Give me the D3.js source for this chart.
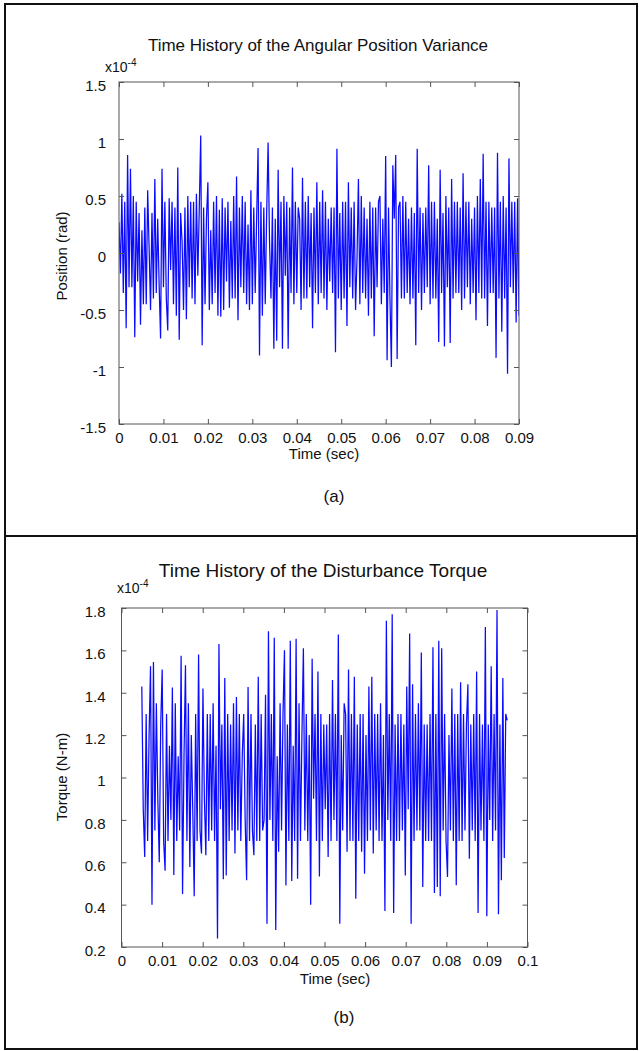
<!DOCTYPE html>
<html>
<head>
<meta charset="utf-8">
<script src="https://cdn.jsdelivr.net/npm/d3@7"></script>
<style>
  body { margin: 0; background: #fff; }
  svg { display: block; font-family: "Liberation Sans", Arial, sans-serif; }
  .tick text { font-size: 15px; fill: #111; }
  .tick line { stroke: #555; }
</style>
</head>
<body>
<svg id="fig" width="639" height="1051"></svg>
<script>
// ---- Data (values in units of 1e-4) ----
// (a) angular position, sampled evenly over 0 .. 0.09 s
const positionTime = [0, 0.09];
const positionValues = [
  0.27,-0.18,0.52,-0.35,0.45,-0.66,0.86,-0.30,0.74,-0.30,0.50,-0.74,0.45,-0.25,
  0.35,-0.63,0.20,-0.45,0.40,-0.45,0.55,0.05,-0.50,0.35,-0.40,0.65,-0.35,0.30,
  -0.28,-0.75,0.74,-0.30,0.45,-0.40,-0.68,0.48,-0.15,0.45,-0.45,0.40,-0.55,0.75,
  -0.76,0.35,0.10,-0.50,0.40,-0.58,0.50,-0.30,0.45,-0.40,0.45,-0.45,0.52,-0.20,
  0.40,1.03,-0.81,0.40,-0.45,0.30,0.62,-0.50,0.20,-0.45,0.45,-0.35,0.50,-0.55,
  0.38,-0.56,0.48,-0.50,0.40,-0.25,0.45,-0.48,0.28,-0.40,0.50,-0.40,0.67,-0.59,
  0.40,-0.30,0.50,-0.35,0.45,-0.45,0.25,-0.50,0.55,-0.45,0.40,-0.35,0.30,0.92,
  -0.90,0.45,-0.55,0.40,-0.45,0.35,0.97,0.10,-0.40,0.40,-0.84,0.30,-0.77,0.73,
  -0.30,0.45,-0.84,0.50,-0.20,0.45,-0.84,0.40,-0.35,0.75,-0.45,0.45,-0.35,0.40,
  0.30,-0.50,0.66,-0.40,0.45,-0.40,0.50,-0.30,0.35,-0.66,0.40,-0.35,0.62,-0.45,
  0.45,-0.35,0.55,-0.40,0.45,-0.50,0.30,-0.25,0.40,-0.35,0.40,-0.87,0.915,-0.40,
  0.35,-0.50,0.45,-0.40,0.45,-0.64,0.62,-0.30,0.40,-0.40,0.45,-0.50,-0.05,0.65,
  -0.45,0.50,-0.35,0.40,-0.40,0.30,-0.55,0.45,-0.40,0.40,-0.73,0.40,-0.30,0.45,
  0.50,-0.45,0.30,-0.35,0.85,-0.94,0.40,-0.40,-1.00,0.77,0.30,0.86,-0.93,0.40,
  0.45,-0.40,0.50,-0.40,0.45,-0.35,0.30,-0.45,0.40,-0.40,0.35,-0.81,0.915,-0.35,
  0.40,-0.50,0.35,-0.35,0.40,-0.30,0.77,-0.45,0.45,-0.40,0.45,-0.40,0.30,-0.78,
  0.73,-0.35,0.35,-0.82,0.50,-0.30,0.40,-0.79,0.65,-0.40,0.45,-0.35,0.45,-0.35,
  0.40,-0.50,0.70,-0.40,0.45,-0.30,0.45,-0.45,0.30,-0.35,0.40,-0.59,0.50,-0.35,
  0.65,-0.40,0.87,-0.40,0.45,-0.64,0.45,-0.35,0.40,-0.35,0.40,-0.92,0.88,-0.40,
  0.45,-0.69,0.50,-0.40,0.40,-1.06,0.83,-0.30,0.45,-0.35,0.45,-0.61,0.48,-0.55
];
const positionXTicks = [0, 0.01, 0.02, 0.03, 0.04, 0.05, 0.06, 0.07, 0.08, 0.09];
const positionYTicks = [-1.5, -1, -0.5, 0, 0.5, 1, 1.5];

// (b) disturbance torque, sampled evenly over 0.005 .. 0.095 s
const torqueTime = [0.005, 0.095];
const torqueValues = [
  1.43,0.85,0.625,1.30,0.70,1.20,1.525,0.40,1.545,0.75,1.35,0.90,0.60,1.25,
  1.51,0.70,0.56,1.30,0.70,1.15,0.80,1.425,0.54,1.35,0.70,1.10,0.75,1.575,
  0.45,1.10,1.53,0.70,1.35,0.578,1.20,0.85,0.44,1.30,0.70,1.58,0.75,0.641,
  1.42,0.90,0.633,1.30,0.70,1.30,0.75,1.35,0.70,1.15,0.24,1.63,0.85,1.25,
  0.52,1.47,0.538,1.30,0.70,1.25,0.75,1.35,0.641,1.38,0.75,1.30,0.70,1.10,
  1.30,0.80,0.515,1.427,0.70,1.30,0.75,0.633,1.25,0.70,1.475,0.70,1.30,0.75,
  0.80,1.39,0.31,1.69,0.80,1.30,0.70,1.66,0.28,1.10,0.65,1.35,0.75,1.30,
  1.60,0.49,1.25,0.70,1.645,0.511,1.15,0.70,1.655,0.522,1.35,0.70,1.20,1.61,
  0.75,1.30,0.70,1.20,0.40,1.56,0.90,1.30,0.70,1.50,0.533,1.30,0.70,1.25,
  0.85,1.25,0.625,1.30,0.70,1.46,0.80,1.30,0.70,1.675,0.31,1.20,0.75,1.35,
  1.30,0.649,1.51,0.70,1.30,0.70,1.475,0.428,1.25,0.70,1.30,0.65,1.30,0.546,
  1.20,0.70,1.43,0.75,1.475,0.641,1.30,0.75,1.30,0.70,1.35,0.70,1.20,0.37,
  1.74,0.80,1.30,0.70,1.77,0.36,1.25,0.70,1.30,0.70,1.30,0.75,1.25,0.538,
  1.43,0.85,1.68,0.31,1.44,0.70,1.30,0.75,1.35,0.75,1.59,0.483,1.25,0.70,
  1.25,0.70,1.30,0.70,1.615,0.455,1.30,0.483,1.645,0.44,1.61,0.75,1.30,0.70,
  0.53,1.20,0.75,1.42,0.70,1.30,0.491,1.30,0.70,1.45,0.70,1.30,0.75,1.25,
  1.44,0.617,1.25,0.75,1.30,0.70,1.50,0.36,1.30,0.75,1.25,0.70,1.71,0.345,
  1.25,0.80,1.525,0.70,1.30,0.75,1.79,0.355,1.25,0.515,1.47,0.62,1.30,1.27
];
const torqueXTicks = [0, 0.01, 0.02, 0.03, 0.04, 0.05, 0.06, 0.07, 0.08, 0.09, 0.1];
const torqueYTicks = [0.2, 0.4, 0.6, 0.8, 1, 1.2, 1.4, 1.6, 1.8];

const svg = d3.select('#fig');

// ---- Outer frame and divider ----
svg.append('rect')
  .attr('x', 5).attr('y', 4).attr('width', 632).attr('height', 1045)
  .attr('fill', 'none').attr('stroke', '#111').attr('stroke-width', 2);
svg.append('line')
  .attr('x1', 5).attr('x2', 637).attr('y1', 536).attr('y2', 536)
  .attr('stroke', '#111').attr('stroke-width', 2);

const panels = [
  {
    id: 'a',
    title: 'Time History of the Angular Position Variance', titleSize: 17,
    yLabel: 'Position (rad)',
    caption: '(a)',
    time: positionTime, values: positionValues,
    xTicks: positionXTicks, yTicks: positionYTicks,
    box: {left: 119, right: 519, top: 82, bottom: 424},
    titlePos: [318, 51], expPos: [105, 72], yLabelPos: [67, 256],
    xLabelPos: [324, 459], captionPos: [334, 502], yPad: 13
  },
  {
    id: 'b',
    title: 'Time History of the Disturbance Torque', titleSize: 19,
    yLabel: 'Torque (N-m)',
    caption: '(b)',
    time: torqueTime, values: torqueValues,
    xTicks: torqueXTicks, yTicks: torqueYTicks,
    box: {left: 121.5, right: 527.5, top: 608, bottom: 947},
    titlePos: [323, 577], expPos: [117, 593], yLabelPos: [67, 777],
    xLabelPos: [335, 984], captionPos: [344, 1023], yPad: 16
  }
];

panels.forEach(drawPanel);

function drawPanel(p) {
  const b = p.box;
  const x = d3.scaleLinear()
    .domain([p.xTicks[0], p.xTicks[p.xTicks.length - 1]])
    .range([b.left, b.right]);
  const y = d3.scaleLinear()
    .domain([p.yTicks[0], p.yTicks[p.yTicks.length - 1]])
    .range([b.bottom, b.top]);

  const g = svg.append('g').attr('id', 'panel-' + p.id);

  // clip
  g.append('clipPath').attr('id', 'clip-' + p.id)
    .append('rect')
    .attr('x', b.left).attr('y', b.top)
    .attr('width', b.right - b.left).attr('height', b.bottom - b.top);

  // signal
  const n = p.values.length;
  const dt = (p.time[1] - p.time[0]) / (n - 1);
  const line = d3.line()
    .x((d, i) => x(p.time[0] + i * dt))
    .y(d => y(d));
  g.append('path')
    .datum(p.values)
    .attr('clip-path', `url(#clip-${p.id})`)
    .attr('fill', 'none')
    .attr('stroke', '#0a0aff')
    .attr('stroke-width', 1.25)
    .attr('d', line);

  // axes: ticks point inward on all four sides
  const fmt = d => String(d);
  g.append('g')
    .attr('transform', `translate(0,${b.bottom})`)
    .call(d3.axisBottom(x).tickValues(p.xTicks).tickFormat(fmt)
      .tickSizeInner(-5).tickSizeOuter(0).tickPadding(8));
  g.append('g')
    .attr('transform', `translate(0,${b.top})`)
    .call(d3.axisTop(x).tickValues(p.xTicks).tickFormat('')
      .tickSizeInner(-5).tickSizeOuter(0));
  g.append('g')
    .attr('transform', `translate(${b.left},0)`)
    .call(d3.axisLeft(y).tickValues(p.yTicks).tickFormat(fmt)
      .tickSizeInner(-5).tickSizeOuter(0).tickPadding(p.yPad))
    .selectAll('text').attr('dy', '0.55em');
  g.append('g')
    .attr('transform', `translate(${b.right},0)`)
    .call(d3.axisRight(y).tickValues(p.yTicks).tickFormat('')
      .tickSizeInner(-5).tickSizeOuter(0));
  g.selectAll('.domain').remove();

  // box
  g.append('rect')
    .attr('x', b.left).attr('y', b.top)
    .attr('width', b.right - b.left).attr('height', b.bottom - b.top)
    .attr('fill', 'none').attr('stroke', '#555').attr('stroke-width', 1);

  // texts
  g.append('text')
    .attr('x', p.titlePos[0]).attr('y', p.titlePos[1])
    .attr('text-anchor', 'middle').attr('font-size', p.titleSize).attr('fill', '#111')
    .text(p.title);

  const exp = g.append('text')
    .attr('x', p.expPos[0]).attr('y', p.expPos[1])
    .attr('font-size', 14).attr('fill', '#111');
  exp.append('tspan').text('x10');
  exp.append('tspan').attr('dy', -6).attr('font-size', 10).text('-4');

  g.append('text')
    .attr('transform', `translate(${p.yLabelPos[0]},${p.yLabelPos[1]}) rotate(-90)`)
    .attr('text-anchor', 'middle').attr('font-size', 15).attr('fill', '#111')
    .text(p.yLabel);

  g.append('text')
    .attr('x', p.xLabelPos[0]).attr('y', p.xLabelPos[1])
    .attr('text-anchor', 'middle').attr('font-size', 15).attr('fill', '#111')
    .text('Time (sec)');

  g.append('text')
    .attr('x', p.captionPos[0]).attr('y', p.captionPos[1])
    .attr('text-anchor', 'middle').attr('font-size', 17).attr('fill', '#111')
    .text(p.caption);
}
</script>
</body>
</html>
